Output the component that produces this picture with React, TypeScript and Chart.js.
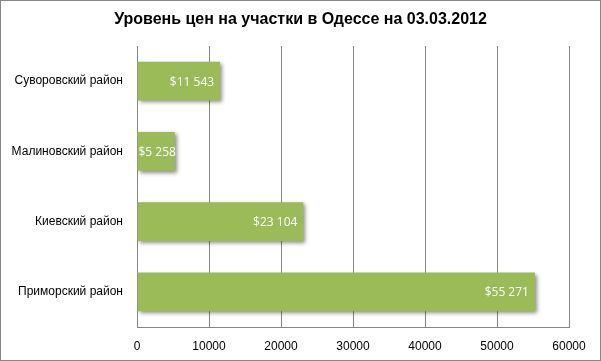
import React, { useEffect, useRef } from "react";
import { Chart, registerables } from "chart.js";

Chart.register(...registerables);

const titleText = "Уровень цен на участки в Одессе на 03.03.2012";
const categories = ["Суворовский район", "Малиновский район", "Киевский район", "Приморский район"];
const prices = [11543, 5258, 23104, 55271];
const priceLabels = ["$11 543", "$5 258", "$23 104", "$55 271"];
const xTicks = [0, 10000, 20000, 30000, 40000, 50000, 60000];

const GRID = "#878787";
const BAR = "#9BBB59";

const shadowPlugin = {
  id: "barShadow",
  beforeDatasetsDraw(chart: any) {
    const ctx = chart.ctx;
    ctx.save();
    ctx.shadowColor = "rgba(0,0,0,0.45)";
    ctx.shadowBlur = 4;
    ctx.shadowOffsetX = 2;
    ctx.shadowOffsetY = 2;
  },
  afterDatasetsDraw(chart: any) {
    const ctx = chart.ctx;
    ctx.restore();
    const meta = chart.getDatasetMeta(0);
    ctx.save();
    ctx.fillStyle = "#ffffff";
    ctx.font = "12px 'Open Sans'";
    ctx.textBaseline = "middle";
    meta.data.forEach((bar: any, i: number) => {
      const w = ctx.measureText(priceLabels[i]).width;
      let x = bar.x - 6;
      if (x - w < bar.base + 1) {
        ctx.textAlign = "left";
        ctx.fillText(priceLabels[i], bar.base + 1, bar.y + 1);
      } else {
        ctx.textAlign = "right";
        ctx.fillText(priceLabels[i], x, bar.y + 1);
      }
    });
    ctx.restore();
  },
  afterDraw(chart: any) {
    const ctx = chart.ctx;
    ctx.save();
    ctx.strokeStyle = GRID;
    ctx.lineWidth = 1;
    ctx.strokeRect(0.5, 0.5, chart.width - 1, chart.height - 1);
    ctx.fillStyle = "#000";
    ctx.font = "bold 16px 'Liberation Sans'";
    ctx.textAlign = "center";
    ctx.textBaseline = "middle";
    ctx.fillText(titleText, chart.width / 2, 20);
    ctx.restore();
  },
};

export default function App() {
  const ref = useRef<HTMLCanvasElement>(null);
  useEffect(() => {
    const chart = new Chart(ref.current!, {
      type: "bar",
      data: {
        labels: categories,
        datasets: [
          {
            data: prices,
            backgroundColor: BAR,
            borderWidth: 0,
            barPercentage: 0.55,
            categoryPercentage: 1,
          },
        ],
      },
      options: {
        indexAxis: "y",
        responsive: false,
        animation: false,
        layout: { padding: { left: 0, right: 32, top: 46, bottom: 7 } },
        plugins: {
          legend: { display: false },
          tooltip: { enabled: false },
          title: { display: false },
        },
        scales: {
          x: {
            min: 0,
            max: 60000,
            afterBuildTicks(scale: any) {
              scale.ticks = xTicks.map((v) => ({ value: v }));
            },
            afterFit(scale: any) {
              scale.height = 27;
            },
            grid: { color: GRID, drawTicks: false, lineWidth: 1 },
            border: { color: GRID, width: 1 },
            ticks: {
              color: "#000",
              padding: 12,
              font: { family: "'Liberation Sans'", size: 12 },
              maxRotation: 0,
              callback: (v: any) => String(v),
            },
          },
          y: {
            afterFit(scale: any) {
              scale.width = 137;
            },
            grid: { display: false, drawTicks: false },
            border: { color: GRID, width: 1 },
            ticks: {
              color: "#000",
              padding: 14,
              font: { family: "'Liberation Sans'", size: 12 },
            },
          },
        },
      },
      plugins: [shadowPlugin],
    });
    return () => chart.destroy();
  }, []);
  return (
    <div style={{ position: "fixed", left: 0, top: 0, width: 601, height: 361, background: "#fff" }}>
      <canvas ref={ref} width={601} height={361} />
    </div>
  );
}
